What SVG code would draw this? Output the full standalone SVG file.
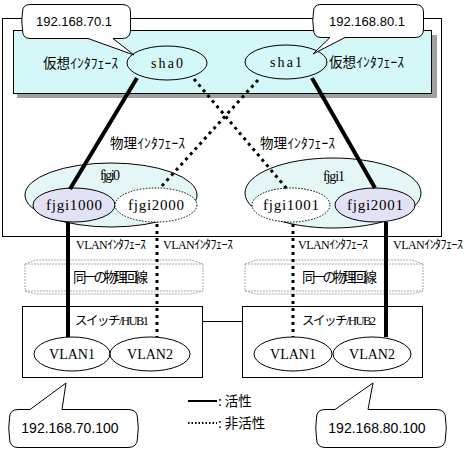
<svg xmlns="http://www.w3.org/2000/svg" width="469" height="450" viewBox="0 0 469 450">
<style>
.ln{fill:none;stroke:#000;stroke-width:1}
.jp{font-family:"Noto Sans CJK JP","DejaVu Sans",sans-serif;font-size:13.5px;fill:#000}
.sr{font-family:"Liberation Serif","Noto Sans CJK JP",serif;fill:#000}
.ss{font-family:"Liberation Sans",sans-serif;fill:#000}
.mid{text-anchor:middle}
.act{fill:none;stroke:#000;stroke-width:4}
.ina{fill:none;stroke:#000;stroke-width:3;stroke-dasharray:3 4}
.dote{stroke:#000;stroke-width:1;stroke-dasharray:1.5 1.5}
.pipe{fill:none;stroke:#aaa;stroke-width:1;stroke-dasharray:2 1}
.bub{fill:#fff;stroke:#000;stroke-width:1}
</style>
<rect x="0" y="0" width="469" height="450" fill="#fff"/>
<g id="outer-box"><rect x="2.5" y="18.5" width="439" height="218" class="ln" fill="#fff"/></g>
<g id="virtual-area">
<rect x="17" y="35" width="420" height="63" fill="#a0a0a0"/>
<rect x="13.5" y="30.5" width="418" height="63" fill="#d4f7f7" stroke="#000"/>
<text class="jp" x="43" y="68" textLength="75">仮想ｲﾝﾀﾌｪｰｽ</text>
<text class="jp" x="329" y="67" textLength="75">仮想ｲﾝﾀﾌｪｰｽ</text>
</g>
<g id="sha0"><ellipse cx="167" cy="63" rx="40" ry="17" fill="#d4f7f7" stroke="#000"/><text class="sr mid" x="167" y="68" font-size="14" textLength="32">sha0</text></g>
<g id="sha1"><ellipse cx="286" cy="62" rx="41" ry="17" fill="#d4f7f7" stroke="#000"/><text class="sr mid" x="286" y="67" font-size="14" textLength="32">sha1</text></g>
<g id="phys-labels">
<text class="jp" x="110" y="148" textLength="75">物理ｲﾝﾀﾌｪｰｽ</text>
<text class="jp" x="260" y="148" textLength="75">物理ｲﾝﾀﾌｪｰｽ</text>
</g>
<g id="fjgi0"><ellipse cx="111" cy="195" rx="86" ry="32" fill="#e4f6f6" stroke="#000"/><text class="sr mid" x="110" y="180" font-size="14" textLength="20">fjgi0</text></g>
<g id="fjgi1"><ellipse cx="333" cy="193" rx="88" ry="35" fill="#e4f6f6" stroke="#000"/><text class="sr mid" x="334" y="181" font-size="14" textLength="22">fjgi1</text></g>
<g id="fjgi1000"><ellipse cx="74" cy="205" rx="41" ry="17" fill="#e2e2f6" stroke="#000"/><text class="sr mid" x="74" y="210" font-size="15" textLength="56">fjgi1000</text></g>
<g id="fjgi2000"><ellipse cx="156" cy="205" rx="41" ry="17" fill="#fff" class="dote"/><text class="sr mid" x="156" y="210" font-size="15" textLength="56">fjgi2000</text></g>
<g id="fjgi1001"><ellipse cx="291" cy="205" rx="39" ry="17" fill="#fff" class="dote"/><text class="sr mid" x="291" y="210" font-size="15" textLength="56">fjgi1001</text></g>
<g id="fjgi2001"><ellipse cx="375" cy="205" rx="40" ry="17" fill="#e2e2f6" stroke="#000"/><text class="sr mid" x="375" y="210" font-size="15" textLength="56">fjgi2001</text></g>
<g id="vlan-labels">
<text class="sr" x="76" y="249" font-size="12" textLength="70">VLANｲﾝﾀﾌｪｰｽ</text>
<text class="sr" x="163" y="249" font-size="12" textLength="70">VLANｲﾝﾀﾌｪｰｽ</text>
<text class="sr" x="298" y="249" font-size="12" textLength="70">VLANｲﾝﾀﾌｪｰｽ</text>
<text class="sr" x="393" y="249" font-size="12" textLength="70">VLANｲﾝﾀﾌｪｰｽ</text>
</g>
<g id="line1">
<path class="pipe" d="M25,264 L36,260 L192,260 L203,264 M25,264 L203,264 M25,291 L203,291 M25,291 L36,294 L192,294 L203,291 M25,264 L25,291 M203,264 L203,291"/>
<text class="jp" x="73" y="282" font-size="11" textLength="75">同一の物理回線</text>
</g>
<g id="line2">
<path class="pipe" d="M245,264 L256,260 L412,260 L423,264 M245,264 L423,264 M245,291 L423,291 M245,291 L256,294 L412,294 L423,291 M245,264 L245,291 M423,264 L423,291"/>
<text class="jp" x="302" y="282" font-size="11" textLength="75">同一の物理回線</text>
</g>
<g id="hub1">
<rect x="22.5" y="306.5" width="180" height="71" class="ln" fill="#fff"/>
<text class="sr" x="75" y="325" font-size="12.5" textLength="74">スイッチ/HUB1</text>
</g>
<g id="hub2">
<rect x="242.5" y="306.5" width="180" height="71" class="ln" fill="#fff"/>
<text class="sr" x="302" y="325" font-size="12.5" textLength="74">スイッチ/HUB2</text>
</g>
<g id="hub1-vlan1"><ellipse cx="72" cy="354" rx="38" ry="17" fill="#fff" stroke="#000"/><text class="sr mid" x="72" y="359" font-size="14">VLAN1</text></g>
<g id="hub1-vlan2"><ellipse cx="150" cy="354" rx="40" ry="17" fill="#fff" stroke="#000"/><text class="sr mid" x="150" y="359" font-size="14">VLAN2</text></g>
<g id="hub2-vlan1"><ellipse cx="293" cy="354" rx="39" ry="17" fill="#fff" stroke="#000"/><text class="sr mid" x="293" y="359" font-size="14">VLAN1</text></g>
<g id="hub2-vlan2"><ellipse cx="372" cy="354" rx="39" ry="17" fill="#fff" stroke="#000"/><text class="sr mid" x="372" y="359" font-size="14">VLAN2</text></g>
<g id="connectors">
<line class="act" x1="137" y1="78" x2="70" y2="189"/>
<line class="act" x1="68" y1="222" x2="68" y2="337"/>
<line class="act" x1="312" y1="78" x2="375" y2="188"/>
<line class="act" x1="386" y1="222" x2="386" y2="337"/>
<line class="ina" x1="194" y1="79" x2="287" y2="189"/>
<line class="ina" x1="258" y1="80" x2="160" y2="188"/>
<line class="ina" x1="157" y1="224" x2="157" y2="337"/>
<line class="ina" x1="293" y1="224" x2="293" y2="337"/>
<line class="ln" x1="202" y1="321.5" x2="242" y2="321.5"/>
</g>
<g id="callout-70-1">
<path class="bub" d="M30,4.5 L122,4.5 Q130.5,4.5 130.5,12 L130.5,30 Q130.5,38.5 122,38.5 L113,38.5 L134,55 L88,38.5 L30,38.5 Q22.5,38.5 22.5,30 Q21,21 22.5,12 Q22.5,4.5 30,4.5 Z"/>
<text class="ss mid" x="74" y="26" font-size="13">192.168.70.1</text>
</g>
<g id="callout-80-1">
<path class="bub" d="M321,4.5 L415,4.5 Q423.5,4.5 423.5,12 L423.5,29 Q423.5,37.5 415,37.5 L345,37.5 L313,54 L330,37.5 L321,37.5 Q313.5,37.5 313.5,29 Q312,21 313.5,12 Q313.5,4.5 321,4.5 Z"/>
<text class="ss mid" x="367" y="26" font-size="13">192.168.80.1</text>
</g>
<g id="callout-70-100">
<path class="bub" d="M18,409.5 L30,409.5 L66,383 L62,409.5 L128,409.5 Q137.5,409.5 137.5,418 Q139,428 137.5,438 Q137.5,447.5 128,447.5 L18,447.5 Q9.5,447.5 9.5,438 Q8,428 9.5,418 Q9.5,409.5 18,409.5 Z"/>
<text class="ss mid" x="70" y="433" font-size="14">192.168.70.100</text>
</g>
<g id="callout-80-100">
<path class="bub" d="M325,409.5 L335,409.5 L373,383 L368,409.5 L436,409.5 Q445.5,409.5 445.5,418 Q447,428 445.5,438 Q445.5,447.5 436,447.5 L325,447.5 Q316.5,447.5 316.5,438 Q315,428 316.5,418 Q316.5,409.5 325,409.5 Z"/>
<text class="ss mid" x="377" y="433" font-size="14">192.168.80.100</text>
</g>
<g id="legend">
<line x1="188" y1="401" x2="217" y2="401" stroke="#000" stroke-width="2"/>
<text class="jp" x="218" y="406">: 活性</text>
<line x1="188" y1="423" x2="217" y2="423" stroke="#000" stroke-width="2" stroke-dasharray="1.5 2"/>
<text class="jp" x="218" y="428">: 非活性</text>
</g>
</svg>
